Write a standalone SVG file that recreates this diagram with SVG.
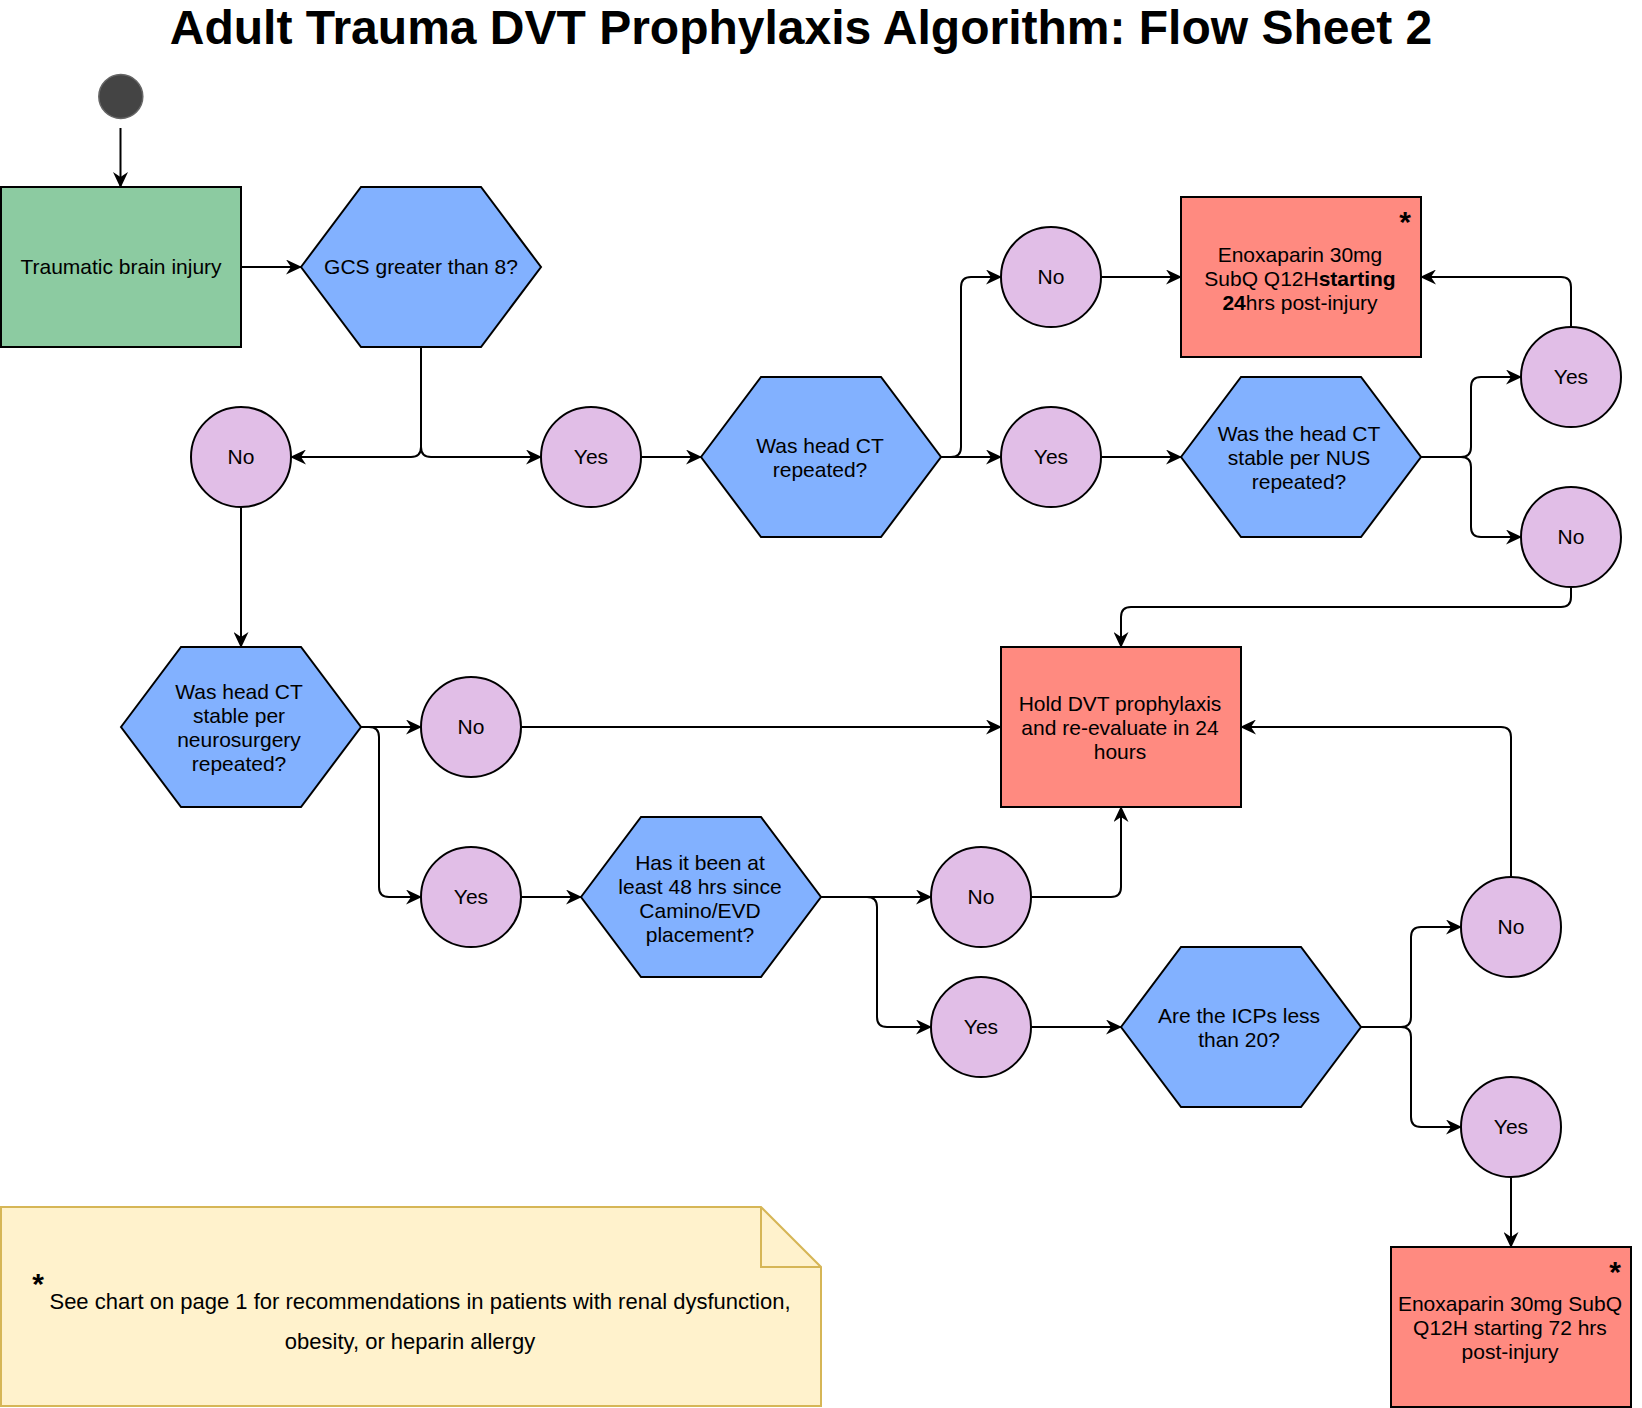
<svg xmlns="http://www.w3.org/2000/svg" width="1642" height="1408" viewBox="0 0 1642 1408">
<defs>
<style>
text{font-family:"Liberation Sans",Arial,Helvetica,sans-serif;font-size:21px;fill:#000;text-anchor:middle}
.hex{fill:#82B1FF;stroke:#000;stroke-width:2}
.circ{fill:#E1BEE7;stroke:#000;stroke-width:2}
.red{fill:#FF8A80;stroke:#000;stroke-width:2}
.green{fill:#8CCBA1;stroke:#000;stroke-width:2}
.edge{fill:none;stroke:#000;stroke-width:2;marker-end:url(#arr)}
.star{font-size:30px;font-weight:bold}
.note{font-size:22px}
</style>
<marker id="arr" viewBox="0 0 16 15" refX="15" refY="7.5" markerWidth="16" markerHeight="15" markerUnits="userSpaceOnUse" orient="auto">
<path d="M0,0 L16,7.5 L0,15 L5,7.5 Z" fill="#000"/>
</marker>
</defs>
<rect width="1642" height="1408" fill="#fff"/>
<text x="801" y="44" style="font-size:48px;font-weight:bold">Adult Trauma DVT Prophylaxis Algorithm: Flow Sheet 2</text>

<g id="connectors">
<path class="edge" d="M120.5,128 L120.5,187"/>
<path class="edge" d="M241,267 L301,267"/>
<path class="edge" d="M421,347 L421,447 Q421,457 411,457 L291,457"/>
<path class="edge" d="M421,347 L421,447 Q421,457 431,457 L541,457"/>
<path class="edge" d="M641,457 L701,457"/>
<path class="edge" d="M941,457 L951,457 Q961,457 961,447 L961,287 Q961,277 971,277 L1001,277"/>
<path class="edge" d="M941,457 L1001,457"/>
<path class="edge" d="M1101,277 L1181,277"/>
<path class="edge" d="M1101,457 L1181,457"/>
<path class="edge" d="M1421,457 L1461,457 Q1471,457 1471,447 L1471,387 Q1471,377 1481,377 L1521,377"/>
<path class="edge" d="M1421,457 L1461,457 Q1471,457 1471,467 L1471,527 Q1471,537 1481,537 L1521,537"/>
<path class="edge" d="M1571,327 L1571,287 Q1571,277 1561,277 L1421,277"/>
<path class="edge" d="M1571,587 L1571,597 Q1571,607 1561,607 L1131,607 Q1121,607 1121,617 L1121,647"/>
<path class="edge" d="M241,507 L241,647"/>
<path class="edge" d="M361,727 L421,727"/>
<path class="edge" d="M361,727 L369,727 Q379,727 379,737 L379,887 Q379,897 389,897 L421,897"/>
<path class="edge" d="M521,727 L1001,727"/>
<path class="edge" d="M521,897 L581,897"/>
<path class="edge" d="M821,897 L931,897"/>
<path class="edge" d="M821,897 L867,897 Q877,897 877,907 L877,1017 Q877,1027 887,1027 L931,1027"/>
<path class="edge" d="M1031,897 L1111,897 Q1121,897 1121,887 L1121,807"/>
<path class="edge" d="M1031,1027 L1121,1027"/>
<path class="edge" d="M1361,1027 L1401,1027 Q1411,1027 1411,1017 L1411,937 Q1411,927 1421,927 L1461,927"/>
<path class="edge" d="M1361,1027 L1401,1027 Q1411,1027 1411,1037 L1411,1117 Q1411,1127 1421,1127 L1461,1127"/>
<path class="edge" d="M1511,877 L1511,737 Q1511,727 1501,727 L1241,727"/>
<path class="edge" d="M1511,1177 L1511,1247"/>
</g>

<g id="start"><circle cx="120.8" cy="96.5" r="22" fill="#444" stroke="#666" stroke-width="1.5"/></g>

<g id="tbi"><rect class="green" x="1" y="187" width="240" height="160"/><text x="121" y="274">Traumatic brain injury</text></g>

<g id="gcs"><polygon class="hex" points="301,267 361,187 481,187 541,267 481,347 361,347"/><text x="421" y="274">GCS greater than 8?</text></g>

<g id="no1"><circle class="circ" cx="241" cy="457" r="50"/><text x="241" y="464">No</text></g>
<g id="yes1"><circle class="circ" cx="591" cy="457" r="50"/><text x="591" y="464">Yes</text></g>

<g id="ctrepeated"><polygon class="hex" points="701,457 761,377 881,377 941,457 881,537 761,537"/><text x="820" y="453">Was head CT</text><text x="820" y="477">repeated?</text></g>

<g id="no2"><circle class="circ" cx="1051" cy="277" r="50"/><text x="1051" y="284">No</text></g>
<g id="yes2"><circle class="circ" cx="1051" cy="457" r="50"/><text x="1051" y="464">Yes</text></g>

<g id="enox24"><rect class="red" x="1181" y="197" width="240" height="160"/>
<text x="1405" y="232" class="star">*</text>
<text x="1300" y="262">Enoxaparin 30mg</text>
<text x="1300" y="286">SubQ Q12H<tspan font-weight="bold">starting</tspan></text>
<text x="1300" y="310"><tspan font-weight="bold">24</tspan>hrs post-injury</text>
</g>

<g id="nus"><polygon class="hex" points="1181,457 1241,377 1361,377 1421,457 1361,537 1241,537"/>
<text x="1299" y="441">Was the head CT</text><text x="1299" y="465">stable per NUS</text><text x="1299" y="489">repeated?</text></g>

<g id="yes3"><circle class="circ" cx="1571" cy="377" r="50"/><text x="1571" y="384">Yes</text></g>
<g id="no3"><circle class="circ" cx="1571" cy="537" r="50"/><text x="1571" y="544">No</text></g>

<g id="neuro"><polygon class="hex" points="121,727 181,647 301,647 361,727 301,807 181,807"/>
<text x="239" y="699">Was head CT</text><text x="239" y="723">stable per</text><text x="239" y="747">neurosurgery</text><text x="239" y="771">repeated?</text></g>

<g id="no4"><circle class="circ" cx="471" cy="727" r="50"/><text x="471" y="734">No</text></g>
<g id="yes4"><circle class="circ" cx="471" cy="897" r="50"/><text x="471" y="904">Yes</text></g>

<g id="hold"><rect class="red" x="1001" y="647" width="240" height="160"/>
<text x="1120" y="711">Hold DVT prophylaxis</text><text x="1120" y="735">and re-evaluate in 24</text><text x="1120" y="759">hours</text></g>

<g id="camino"><polygon class="hex" points="581,897 641,817 761,817 821,897 761,977 641,977"/>
<text x="700" y="870">Has it been at</text><text x="700" y="894">least 48 hrs since</text><text x="700" y="918">Camino/EVD</text><text x="700" y="942">placement?</text></g>

<g id="no5"><circle class="circ" cx="981" cy="897" r="50"/><text x="981" y="904">No</text></g>
<g id="yes5"><circle class="circ" cx="981" cy="1027" r="50"/><text x="981" y="1034">Yes</text></g>

<g id="icp"><polygon class="hex" points="1121,1027 1181,947 1301,947 1361,1027 1301,1107 1181,1107"/>
<text x="1239" y="1023">Are the ICPs less</text><text x="1239" y="1047">than 20?</text></g>

<g id="no6"><circle class="circ" cx="1511" cy="927" r="50"/><text x="1511" y="934">No</text></g>
<g id="yes6"><circle class="circ" cx="1511" cy="1127" r="50"/><text x="1511" y="1134">Yes</text></g>

<g id="enox72"><rect class="red" x="1391" y="1247" width="240" height="160"/>
<text x="1615" y="1282" class="star">*</text>
<text x="1510" y="1311">Enoxaparin 30mg SubQ</text><text x="1510" y="1335">Q12H starting 72 hrs</text><text x="1510" y="1359">post-injury</text></g>

<g id="note"><path d="M1,1207 L761,1207 L821,1267 L821,1406 L1,1406 Z" fill="#FFF2CC" stroke="#D6B656" stroke-width="2"/>
<path d="M761,1207 L761,1267 L821,1267" fill="none" stroke="#D6B656" stroke-width="2"/>
<text x="38" y="1294" class="star">*</text>
<text x="420" y="1309" class="note">See chart on page 1 for recommendations in patients with renal dysfunction,</text>
<text x="410" y="1349" class="note">obesity, or heparin allergy</text></g>
</svg>
